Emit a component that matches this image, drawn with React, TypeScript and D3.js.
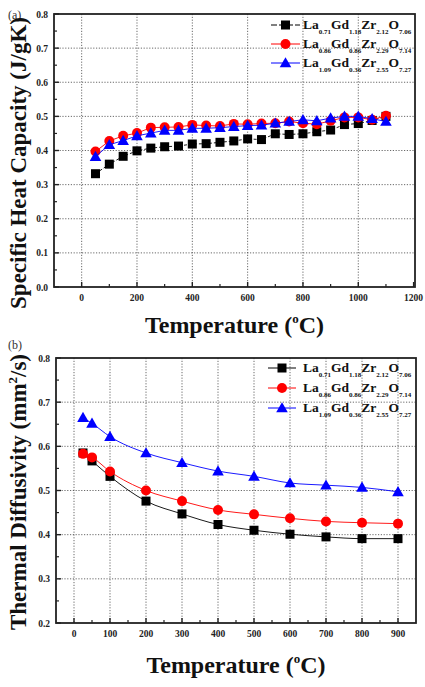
import React from "react";
import * as d3 from "d3";

// ---------- Data ----------
const seriesNames: [string, string][][] = [
  [["La", "0.71"], ["Gd", "1.18"], ["Zr", "2.12"], ["O", "7.06"]],
  [["La", "0.86"], ["Gd", "0.86"], ["Zr", "2.29"], ["O", "7.14"]],
  [["La", "1.09"], ["Gd", "0.36"], ["Zr", "2.55"], ["O", "7.27"]],
];
const seriesColors = ["#000000", "#ff0000", "#0000ff"];
const seriesShapes = ["square", "circle", "triangle"];

// Panel (a): specific heat capacity
const tempA = [50, 100, 150, 200, 250, 300, 350, 400, 450, 500, 550, 600, 650, 700, 750, 800, 850, 900, 950, 1000, 1050, 1100];
const cpBlack = [0.332, 0.36, 0.383, 0.399, 0.407, 0.411, 0.413, 0.419, 0.42, 0.424, 0.428, 0.434, 0.432, 0.449, 0.447, 0.449, 0.455, 0.46, 0.476, 0.479, 0.488, 0.5];
const cpRed = [0.397, 0.428, 0.443, 0.451, 0.467, 0.468, 0.469, 0.475, 0.473, 0.472, 0.478, 0.477, 0.479, 0.48, 0.485, 0.48, 0.477, 0.487, 0.497, 0.497, 0.49, 0.502];
const cpBlue = [0.382, 0.417, 0.429, 0.443, 0.451, 0.459, 0.459, 0.465, 0.465, 0.467, 0.47, 0.473, 0.474, 0.48, 0.485, 0.49, 0.487, 0.495, 0.5, 0.5, 0.493, 0.485];
const xTicksA = [0, 200, 400, 600, 800, 1000, 1200];
const yTicksA = [0.0, 0.1, 0.2, 0.3, 0.4, 0.5, 0.6, 0.7, 0.8];

// Panel (b): thermal diffusivity
const tempB = [25, 50, 100, 200, 300, 400, 500, 600, 700, 800, 900];
const dfBlack = [0.585, 0.567, 0.532, 0.476, 0.447, 0.423, 0.41, 0.401, 0.395, 0.391, 0.391];
const dfRed = [0.583, 0.575, 0.543, 0.5, 0.476, 0.456, 0.446, 0.437, 0.43, 0.427, 0.425];
const dfBlue = [0.665, 0.652, 0.622, 0.585, 0.563, 0.544, 0.532, 0.517, 0.512, 0.507, 0.497];
const xTicksB = [0, 100, 200, 300, 400, 500, 600, 700, 800, 900];
const yTicksB = [0.2, 0.3, 0.4, 0.5, 0.6, 0.7, 0.8];

const FONT = "'Liberation Serif', 'Times New Roman', serif";

function Marker({ shape, x, y, color }: { shape: string; x: number; y: number; color: string }) {
  if (shape === "square") return <rect x={x - 4.5} y={y - 4.5} width={9} height={9} fill={color} />;
  if (shape === "circle") return <circle cx={x} cy={y} r={5} fill={color} />;
  const s = 5.8;
  return <path d={`M${x},${y - s}L${x + s},${y + s * 0.75}L${x - s},${y + s * 0.75}Z`} fill={color} />;
}

function Formula({ x, y, parts }: { x: number; y: number; parts: [string, string][] }) {
  const out: React.ReactNode[] = [];
  parts.forEach(([el, sub], i) => {
    out.push(<tspan key={"e" + i} fontSize={13.5} dy={i === 0 ? 0 : -4.5}>{el}</tspan>);
    out.push(<tspan key={"s" + i} fontSize={7} dy={4.5}>{sub}</tspan>);
  });
  return (
    <text x={x} y={y} fontFamily={FONT} fontWeight="bold" fill="#111">
      {out}
    </text>
  );
}

interface PanelProps {
  label: string;
  left: number; right: number; top: number; bottom: number;
  xDomain: [number, number]; yDomain: [number, number];
  xTicks: number[]; yTicks: number[];
  xMinor: number[]; yMinor: number[];
  xGrid: number[]; yGrid: number[];
  xs: number[]; ys: number[][];
  curve: any; dashBlack: boolean;
  yLabel: React.ReactNode; yLabelCenter: number; xLabelY: number;
  legendRows: number[]; legendLine: [number, number]; legendText: number;
  labelY: number;
}

function Panel(p: PanelProps) {
  const x = d3.scaleLinear().domain(p.xDomain).range([p.left, p.right]);
  const y = d3.scaleLinear().domain(p.yDomain).range([p.bottom, p.top]);
  const line = d3.line<number>().x((_, i) => x(p.xs[i])).y((d) => y(d)).curve(p.curve);
  const yFmt = d3.format(".1f");
  const midX = (p.left + p.right) / 2;
  return (
    <g>
      <text x={8} y={p.labelY} fontFamily={FONT} fontSize={12} fill="#333">{p.label}</text>
      {/* grid */}
      {p.xGrid.map((t) => (
        <line key={"gx" + t} x1={x(t)} x2={x(t)} y1={p.top} y2={p.bottom} stroke="#444" strokeWidth={0.8} strokeDasharray="1.2,1.6" />
      ))}
      {p.yGrid.map((t) => (
        <line key={"gy" + t} x1={p.left} x2={p.right} y1={y(t)} y2={y(t)} stroke="#444" strokeWidth={0.8} strokeDasharray="1.2,1.6" />
      ))}
      {/* ticks inward */}
      {p.xTicks.map((t) => (
        <line key={"tx" + t} x1={x(t)} x2={x(t)} y1={p.bottom} y2={p.bottom - 5} stroke="#222" strokeWidth={1.4} />
      ))}
      {p.xMinor.map((t) => (
        <line key={"mx" + t} x1={x(t)} x2={x(t)} y1={p.bottom} y2={p.bottom - 3} stroke="#222" strokeWidth={1.2} />
      ))}
      {p.yTicks.map((t) => (
        <line key={"ty" + t} x1={p.left} x2={p.left + 5} y1={y(t)} y2={y(t)} stroke="#222" strokeWidth={1.4} />
      ))}
      {p.yMinor.map((t) => (
        <line key={"my" + t} x1={p.left} x2={p.left + 3} y1={y(t)} y2={y(t)} stroke="#222" strokeWidth={1.2} />
      ))}
      {/* tick labels */}
      {p.xTicks.map((t) => (
        <text key={"lx" + t} x={x(t)} y={p.bottom + 14} textAnchor="middle" fontFamily={FONT} fontWeight="bold" fontSize={9.5} fill="#222">{t}</text>
      ))}
      {p.yTicks.map((t) => (
        <text key={"ly" + t} x={p.left - 6} y={y(t) + 3.5} textAnchor="end" fontFamily={FONT} fontWeight="bold" fontSize={9.5} fill="#222">{yFmt(t)}</text>
      ))}
      {/* series */}
      {p.ys.map((vals, si) => (
        <g key={"s" + si}>
          <path d={line(vals) || ""} fill="none" stroke={seriesColors[si]} strokeWidth={0.9}
            strokeDasharray={p.dashBlack && si === 0 ? "3,2" : undefined} />
          {vals.map((v, i) => (
            <Marker key={i} shape={seriesShapes[si]} x={x(p.xs[i])} y={y(v)} color={seriesColors[si]} />
          ))}
        </g>
      ))}
      {/* frame */}
      <rect x={p.left} y={p.top} width={p.right - p.left} height={p.bottom - p.top} fill="none" stroke="#222" strokeWidth={1.8} />
      {/* legend */}
      {p.legendRows.map((ry, si) => (
        <g key={"lg" + si}>
          <line x1={p.legendLine[0]} x2={p.legendLine[1]} y1={ry} y2={ry} stroke={seriesColors[si]} strokeWidth={1}
            strokeDasharray={p.dashBlack && si === 0 ? "6,2" : undefined} />
          <Marker shape={seriesShapes[si]} x={(p.legendLine[0] + p.legendLine[1]) / 2} y={ry} color={seriesColors[si]} />
          <Formula x={p.legendText} y={ry + 4} parts={seriesNames[si]} />
        </g>
      ))}
      {/* axis titles */}
      <text transform={`translate(26,${p.yLabelCenter}) rotate(-90)`} textAnchor="middle" fontFamily={FONT} fontWeight="bold" fontSize={23} fill="#111">
        {p.yLabel}
      </text>
      <text x={midX} y={p.xLabelY} textAnchor="middle" fontFamily={FONT} fontWeight="bold" fontSize={24} fill="#111">
        Temperature (<tspan fontSize={13} dy={-10}>o</tspan><tspan dy={10}>C)</tspan>
      </text>
    </g>
  );
}

export default function App() {
  const range = (a: number, b: number, s: number) => d3.range(a, b + s / 2, s);
  return (
    <svg width={425} height={687} style={{ position: "absolute", left: 0, top: 0, background: "#fff" }}>
      <Panel
        label="(a)" labelY={19}
        left={54} right={415} top={14} bottom={287}
        xDomain={[-100, 1205]} yDomain={[0, 0.8]}
        xTicks={xTicksA} yTicks={yTicksA}
        xMinor={range(100, 1100, 200)} yMinor={range(0.05, 0.75, 0.1)}
        xGrid={[0, 200, 400, 600, 800, 1000]} yGrid={[0.1, 0.2, 0.3, 0.4, 0.5, 0.6, 0.7]}
        xs={tempA} ys={[cpBlack, cpRed, cpBlue]}
        curve={d3.curveLinear} dashBlack={true}
        yLabel={"Specific Heat Capacity (J/gK)"} yLabelCenter={163} xLabelY={333}
        legendRows={[25, 44, 63]} legendLine={[271, 300]} legendText={303}
      />
      <Panel
        label="(b)" labelY={349}
        left={56} right={416} top={358} bottom={623}
        xDomain={[-50, 950]} yDomain={[0.2, 0.8]}
        xTicks={xTicksB} yTicks={yTicksB}
        xMinor={range(50, 850, 100)} yMinor={range(0.25, 0.75, 0.1)}
        xGrid={xTicksB} yGrid={[0.3, 0.4, 0.5, 0.6, 0.7]}
        xs={tempB} ys={[dfBlack, dfRed, dfBlue]}
        curve={d3.curveMonotoneX} dashBlack={false}
        yLabel={<>Thermal Diffusivity (mm<tspan fontSize={13} dy={-9}>2</tspan><tspan dy={9}>/s)</tspan></>}
        yLabelCenter={492}
        xLabelY={673}
        legendRows={[368, 388, 408]} legendLine={[268, 296]} legendText={303}
      />
    </svg>
  );
}
